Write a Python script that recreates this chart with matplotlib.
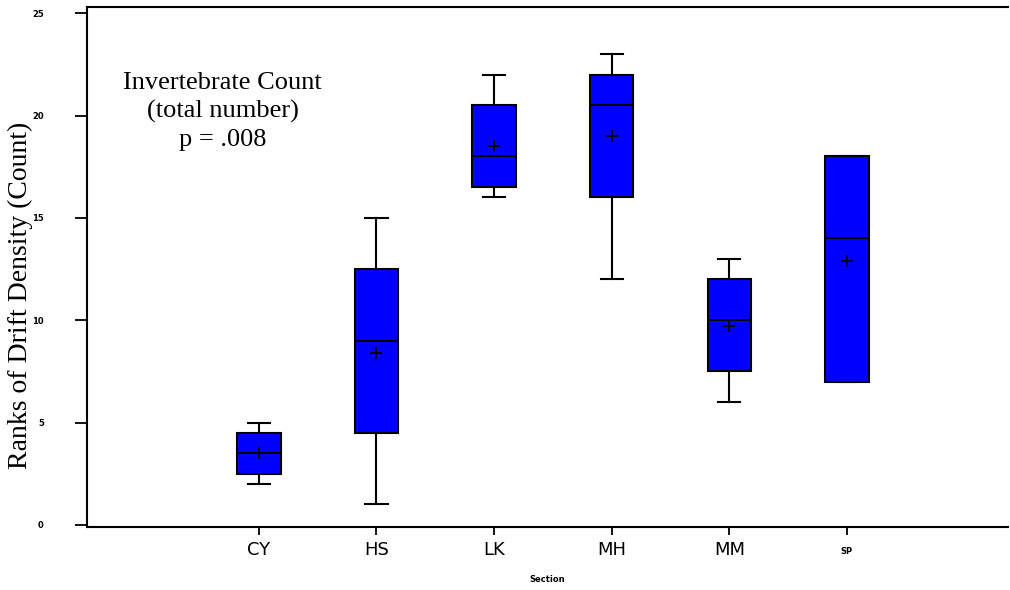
import matplotlib
matplotlib.use("Agg")
import matplotlib.pyplot as plt

# section names and box statistics
sections = ["CY", "HS", "LK", "MH", "MM", "SP"]
whisker_lo = [2.0, 1.0, 16.0, 12.0, 6.0, 7.0]
q1 = [2.5, 4.5, 16.5, 16.0, 7.5, 7.0]
median = [3.5, 9.0, 18.0, 20.5, 10.0, 14.0]
mean = [3.5, 8.4, 18.5, 19.0, 9.7, 12.9]
q3 = [4.5, 12.5, 20.5, 22.0, 12.0, 18.0]
whisker_hi = [5.0, 15.0, 22.0, 23.0, 13.0, 18.0]

stats = []
for i in range(len(sections)):
    stats.append({
        "label": sections[i],
        "whislo": whisker_lo[i], "q1": q1[i], "med": median[i],
        "mean": mean[i], "q3": q3[i], "whishi": whisker_hi[i],
        "fliers": [],
    })

fig = plt.figure(figsize=(10.1, 5.9), dpi=100)
ax = fig.add_axes([0.086, 0.107, 0.912, 0.881])

pos = list(range(1, len(sections) + 1))
ax.bxp(stats, positions=pos, widths=0.37, showmeans=True, patch_artist=True,
       boxprops=dict(facecolor="#0000ff", edgecolor="black", linewidth=1.5),
       medianprops=dict(color="black", linewidth=1.5),
       whiskerprops=dict(color="black", linewidth=1.5),
       capprops=dict(color="black", linewidth=1.5),
       capwidths=0.19,
       meanprops=dict(marker="+", markeredgecolor="black", markersize=9,
                      markeredgewidth=1.3))

ax.set_xlim(-0.463, 7.37)
ax.set_ylim(-0.1, 25.3)
ax.set_yticks([0, 5, 10, 15, 20, 25])
ax.set_yticklabels(["0", "5", "10", "15", "20", "25"], fontsize=6,
                   fontweight="bold", family="DejaVu Sans")
ax.set_xticks(pos)
ax.set_xticklabels(sections, family="DejaVu Sans")
for lab in ax.get_xticklabels():
    if lab.get_text() == "SP":
        lab.set_fontsize(6)
        lab.set_fontweight("bold")
        lab.set_y(-0.012)
    else:
        lab.set_fontsize(13)
ax.tick_params(axis="y", direction="out", length=9, width=1.3, pad=22)
ax.tick_params(axis="x", direction="out", length=6, width=1.3, pad=4)

ax.spines["right"].set_visible(False)
for s in ["left", "top", "bottom"]:
    ax.spines[s].set_linewidth(1.5)

ax.set_xlabel("Section", fontsize=6, fontweight="bold", family="DejaVu Sans",
              labelpad=12)
ax.set_ylabel("Ranks of Drift Density (Count)", fontsize=20,
              family="Liberation Serif")
ax.yaxis.set_label_coords(-0.058, 0.446)

ax.text(0.69, 20.2, "Invertebrate Count\n(total number)\np = .008",
        ha="center", va="center", fontsize=19, family="Liberation Serif",
        linespacing=1.35)

fig.savefig("out.png", dpi=100)
